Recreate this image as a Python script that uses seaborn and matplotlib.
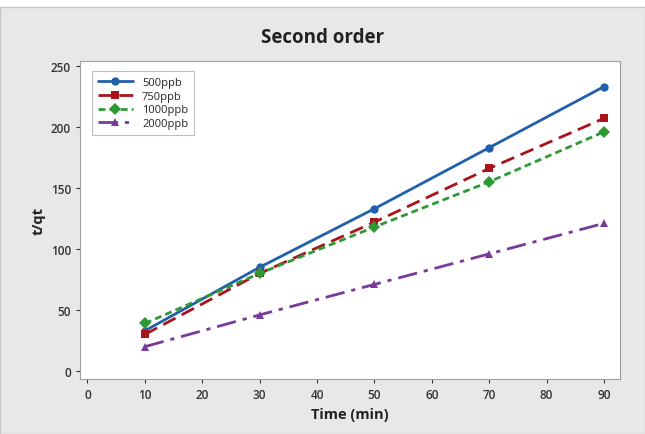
import pandas as pd
import matplotlib.pyplot as plt
import matplotlib.patches as mpatches
import seaborn as sns

# values
time_min = [10, 30, 50, 70, 90]
series_names = ['500ppb', '750ppb', '1000ppb', '2000ppb']
tq_500 = [33, 85, 133, 183, 233]
tq_750 = [30, 80, 122, 166, 207]
tq_1000 = [39, 80, 118, 155, 196]
tq_2000 = [20, 46, 71, 96, 121]
x_ticks = [0, 10, 20, 30, 40, 50, 60, 70, 80, 90]
y_ticks = [0, 50, 100, 150, 200, 250]

sns.set_style('ticks')
plt.rcParams['font.family'] = ['Open Sans', 'DejaVu Sans']

rows = []
for name, vals in zip(series_names, [tq_500, tq_750, tq_1000, tq_2000]):
    for t, v in zip(time_min, vals):
        rows.append({'Time (min)': t, 't/qt': v, 'series': name})
df = pd.DataFrame(rows)

palette = {'500ppb': '#2160ab', '750ppb': '#a8141e',
           '1000ppb': '#2e9a35', '2000ppb': '#7a3a9a'}
dashes = {'500ppb': '', '750ppb': (5, 2.5),
          '1000ppb': (2.5, 1.5), '2000ppb': (7, 2.5, 1.5, 2.5)}
markers = {'500ppb': 'o', '750ppb': 's', '1000ppb': 'D', '2000ppb': '^'}

fig = plt.figure(figsize=(6.45, 4.35), dpi=100)
fig.patch.set_facecolor('white')
# gray panel behind the plot, white strip along the top
fig.patches.append(mpatches.Rectangle((0, 0), 1, 1 - 8 / 435, transform=fig.transFigure,
                                      facecolor='#e8e8e6', edgecolor='#c8c8c8',
                                      linewidth=1, zorder=-10))
ax = fig.add_axes([80 / 645, 1 - 380 / 435, 540 / 645, 318 / 435])

sns.lineplot(data=df, x='Time (min)', y='t/qt', hue='series', style='series',
             hue_order=series_names, style_order=series_names,
             palette=palette, dashes=dashes, markers=markers,
             markersize=6, linewidth=2, markeredgewidth=0, ax=ax)

ax.set_xlim(-1.3, 92.8)
ax.set_ylim(-6.5, 254)
ax.set_xticks(x_ticks)
ax.set_yticks(y_ticks)
ax.tick_params(labelsize=8.5, colors='#333333', length=3, width=0.8)
for lab in ax.get_xticklabels() + ax.get_yticklabels():
    lab.set_fontweight('semibold')
for sp in ax.spines.values():
    sp.set_visible(True)
    sp.set_color('#a0a0a0')
    sp.set_linewidth(0.8)
ax.set_facecolor('white')

ax.set_xlabel('Time (min)', fontsize=10.5, fontweight='bold', color='#222222')
ax.set_ylabel('t/qt', fontsize=10.5, fontweight='bold', color='#222222')
fig.text(0.5, 1 - 38 / 435, 'Second order', ha='center', va='center',
         fontsize=13.5, fontweight='bold', color='#222222')

leg = ax.legend(loc='upper left', bbox_to_anchor=(0.012, 0.985), fontsize=8,
                frameon=True, fancybox=False, handlelength=3.2,
                borderpad=0.5, labelspacing=0.25, title=None)
leg.get_frame().set_edgecolor('#b0b0b0')
leg.get_frame().set_linewidth(0.8)

plt.savefig('out.png', dpi=100)
plt.close()
